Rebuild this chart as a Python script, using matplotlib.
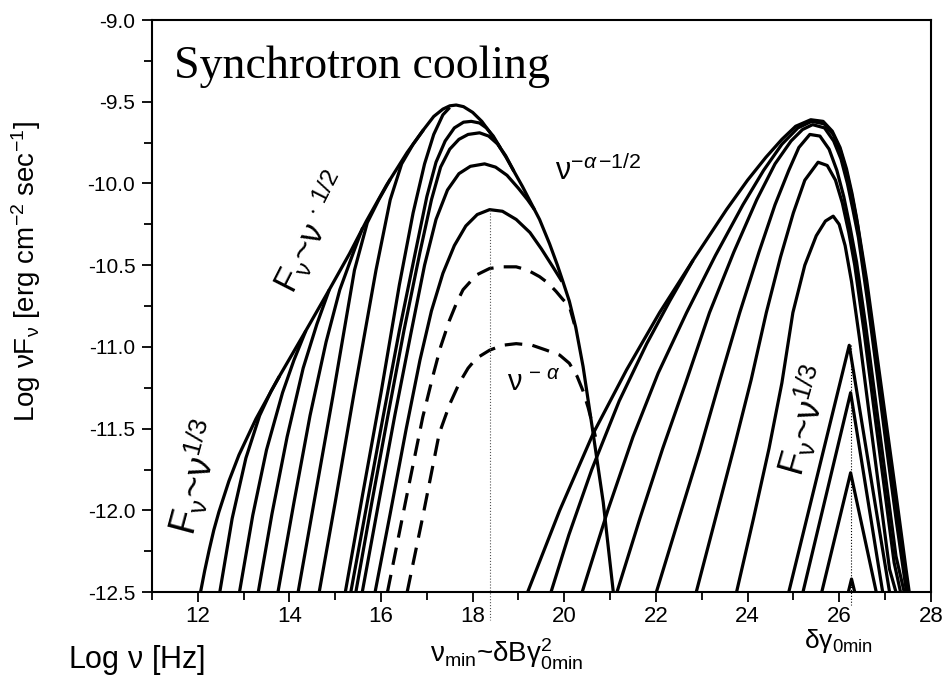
import matplotlib
matplotlib.use('Agg')
import matplotlib.pyplot as plt
from matplotlib.ticker import MultipleLocator, FormatStrFormatter

plt.rcParams['mathtext.fontset'] = 'custom'
plt.rcParams['mathtext.rm'] = 'Liberation Sans'
plt.rcParams['mathtext.it'] = 'Liberation Sans:italic'
plt.rcParams['mathtext.sf'] = 'Liberation Sans'

SANS = ['Liberation Sans', 'DejaVu Sans']

# ---- low-frequency hump (log nu, log nuF_nu) ----
# outer envelope
env_x = [12.06, 12.15, 12.25, 12.35, 12.46, 12.68, 12.90, 13.27, 13.78, 14.36, 14.87, 15.31,
         15.68, 16.12, 16.57, 16.93, 17.15, 17.35, 17.50, 17.64, 17.80, 18.00, 18.20, 18.37,
         18.55, 18.73, 19.09, 19.46, 19.68, 19.85, 19.97, 20.11, 20.25, 20.41, 20.63, 20.85,
         21.07]
env_y = [-12.50, -12.37, -12.24, -12.12, -12.01, -11.82, -11.66, -11.44, -11.18, -10.90, -10.65, -10.43,
         -10.23, -10.01, -9.81, -9.67, -9.59, -9.545, -9.525, -9.52, -9.53, -9.565, -9.62, -9.685,
         -9.76, -9.84, -10.02, -10.22, -10.37, -10.50, -10.60, -10.72, -10.88, -11.12, -11.53, -11.95,
         -12.50]

# branches that climb onto the envelope
lo_x = [
    [12.48, 12.75, 13.05, 13.35, 13.60, 13.78],
    [12.91, 13.20, 13.50, 13.85, 14.10, 14.36],
    [13.32, 13.62, 13.95, 14.30, 14.60, 14.87],
    [13.75, 14.10, 14.45, 14.80, 15.10, 15.40, 15.60],
    [14.19, 14.55, 14.95, 15.42, 15.70, 15.95, 16.20],
    [14.65, 15.00, 15.40, 15.89, 16.20, 16.45, 16.70, 16.93],
    [15.22, 15.60, 16.00, 16.40, 16.70, 16.95, 17.15, 17.35, 17.50],
]
lo_y = [
    [-12.50, -12.05, -11.68, -11.42, -11.27, -11.18],
    [-12.50, -12.03, -11.63, -11.28, -11.08, -10.90],
    [-12.50, -12.02, -11.55, -11.13, -10.86, -10.65],
    [-12.50, -11.95, -11.42, -10.97, -10.65, -10.42, -10.27],
    [-12.50, -11.93, -11.30, -10.53, -10.24, -10.10, -9.975],
    [-12.50, -11.95, -11.30, -10.53, -10.10, -9.88, -9.76, -9.67],
    [-12.50, -11.90, -11.28, -10.62, -10.18, -9.88, -9.70, -9.58, -9.535],
]

# curves with their own maximum, rejoining the falling side
pk_x = [
    [15.34, 15.70, 16.05, 16.40, 16.75, 17.00, 17.20, 17.40, 17.60, 17.80, 17.97, 18.15, 18.30,
     18.45, 18.60],
    [15.45, 15.80, 16.15, 16.50, 16.85, 17.10, 17.30, 17.50, 17.70, 17.90, 18.15, 18.35, 18.55,
     18.72, 18.90],
    [15.59, 15.95, 16.30, 16.65, 16.95, 17.20, 17.45, 17.70, 17.95, 18.26, 18.50, 18.75, 19.00,
     19.20, 19.35],
    [15.87, 16.20, 16.55, 16.85, 17.10, 17.35, 17.60, 17.85, 18.10, 18.37, 18.65, 18.95, 19.25,
     19.50, 19.75, 19.95],
]
pk_y = [
    [-12.50, -11.95, -11.42, -10.90, -10.42, -10.08, -9.87, -9.74, -9.66, -9.625, -9.62, -9.63, -9.66,
     -9.71, -9.78],
    [-12.50, -11.95, -11.42, -10.90, -10.42, -10.10, -9.90, -9.79, -9.73, -9.70, -9.69, -9.71, -9.76,
     -9.83, -9.925],
    [-12.50, -11.95, -11.42, -10.92, -10.50, -10.22, -10.04, -9.94, -9.895, -9.88, -9.90, -9.95, -10.03,
     -10.10, -10.16],
    [-12.50, -12.02, -11.50, -11.08, -10.78, -10.55, -10.38, -10.26, -10.19, -10.16, -10.17, -10.22, -10.30,
     -10.40, -10.51, -10.60],
]

# dashed curves
dash_x = [
    [16.14, 16.54, 16.91, 17.13, 17.30, 17.49, 17.65, 17.79, 18.08, 18.37, 18.65, 18.95, 19.20,
     19.46, 19.65, 19.82, 19.97, 20.11, 20.22],
    [16.57, 16.91, 17.27, 17.50, 17.71, 17.90, 18.08, 18.37, 18.65, 18.95, 19.30, 19.61, 19.90,
     20.11, 20.28, 20.41, 20.52, 20.62, 20.68],
]
dash_y = [
    [-12.50, -11.94, -11.43, -11.18, -11.00, -10.84, -10.73, -10.65, -10.56, -10.52, -10.51, -10.51, -10.53,
     -10.57, -10.61, -10.66, -10.71, -10.75, -10.86],
    [-12.50, -12.04, -11.53, -11.35, -11.22, -11.13, -11.07, -11.02, -10.99, -10.98, -10.99, -11.02, -11.05,
     -11.10, -11.18, -11.27, -11.37, -11.48, -11.55],
]

# ---- high-frequency hump ----
hi_x = [
    [19.20, 19.90, 20.63, 21.36, 22.08, 22.81, 23.54, 24.00, 24.40, 24.75, 25.05, 25.38, 25.65,
     25.85, 26.02, 26.16, 26.28, 26.38, 26.60, 26.82, 27.04, 27.26, 27.46, 27.53],
    [19.71, 20.10, 20.60, 21.20, 21.80, 22.30, 22.81],
    [20.39, 20.95, 21.50, 22.05, 22.67, 23.30, 23.90, 24.35, 24.75, 25.10, 25.40, 25.67, 25.87,
     26.03, 26.17, 26.29, 26.40, 26.60, 26.81, 27.03, 27.25, 27.50],
    [21.15, 21.65, 22.15, 22.65, 23.17, 23.70, 24.20, 24.60, 24.95, 25.20, 25.42, 25.68, 25.88,
     26.04, 26.18, 26.30, 26.42, 26.62, 26.83, 27.04, 27.25, 27.47],
    [22.01, 22.50, 22.95, 23.40, 23.83, 24.25, 24.60, 24.90, 25.12, 25.36, 25.58, 25.78, 25.95,
     26.10, 26.24, 26.38, 26.58, 26.80, 27.02, 27.24, 27.42],
    [22.88, 23.30, 23.72, 24.08, 24.41, 24.72, 25.00, 25.25, 25.54, 25.74, 25.92, 26.07, 26.21,
     26.34, 26.54, 26.76, 26.98, 27.20, 27.34],
    [23.76, 24.13, 24.47, 24.75, 24.99, 25.25, 25.50, 25.70, 25.87, 26.00, 26.13, 26.27, 26.45,
     26.66, 26.88, 27.10, 27.24],
    [24.90, 26.22, 27.10],
    [25.21, 26.25, 26.95],
    [25.62, 26.25, 26.81],
    [26.20, 26.27, 26.34],
]
hi_y = [
    [-12.50, -12.00, -11.53, -11.14, -10.79, -10.47, -10.16, -9.98, -9.84, -9.73, -9.65, -9.61, -9.62,
     -9.68, -9.78, -9.91, -10.06, -10.21, -10.59, -11.04, -11.49, -11.94, -12.36, -12.50],
    [-12.50, -12.15, -11.75, -11.33, -10.98, -10.72, -10.47],
    [-12.50, -12.00, -11.55, -11.16, -10.79, -10.44, -10.13, -9.92, -9.76, -9.66, -9.62, -9.635, -9.70,
     -9.80, -9.94, -10.09, -10.25, -10.63, -11.08, -11.55, -12.02, -12.50],
    [-12.50, -12.05, -11.62, -11.22, -10.79, -10.42, -10.10, -9.88, -9.74, -9.67, -9.64, -9.66, -9.74,
     -9.85, -10.00, -10.16, -10.33, -10.72, -11.17, -11.63, -12.07, -12.50],
    [-12.50, -12.05, -11.64, -11.20, -10.79, -10.42, -10.13, -9.92, -9.78, -9.70, -9.71, -9.79, -9.92,
     -10.08, -10.27, -10.48, -10.87, -11.34, -11.81, -12.28, -12.50],
    [-12.50, -12.05, -11.60, -11.20, -10.79, -10.45, -10.18, -9.98, -9.87, -9.89, -9.98, -10.12, -10.30,
     -10.50, -10.90, -11.38, -11.85, -12.32, -12.50],
    [-12.50, -12.05, -11.62, -11.22, -10.79, -10.50, -10.32, -10.23, -10.20, -10.25, -10.38, -10.60, -10.96,
     -11.42, -11.89, -12.36, -12.50],
    [-12.50, -10.99, -12.50],
    [-12.50, -11.28, -12.50],
    [-12.50, -11.77, -12.50],
    [-12.50, -12.42, -12.50],
]

# characteristic frequencies marked by dotted lines
nu_min_x, nu_min_top = 18.37, -10.16
gam_min_x, gam_min_top = 26.25, -10.99

LW = 2.3
SOLID = dict(color='black', lw=LW, solid_joinstyle='round', solid_capstyle='butt')

fig = plt.figure(figsize=(9.44, 6.79), dpi=100)
ax = fig.add_axes([0.161, 0.128, 0.825, 0.8425])

ax.plot(env_x, env_y, **SOLID)
for xs, ys in zip(lo_x, lo_y):
    ax.plot(xs, ys, **SOLID)
for xs, ys in zip(pk_x, pk_y):
    ax.plot(xs, ys, **SOLID)
for xs, ys in zip(dash_x, dash_y):
    ax.plot(xs, ys, color='black', lw=LW, ls=(0, (5.5, 3.2)))
for xs, ys in zip(hi_x, hi_y):
    ax.plot(xs, ys, **SOLID)

ax.plot([nu_min_x, nu_min_x], [nu_min_top, -12.67], color='#555555', lw=0.8, ls=':', clip_on=False)
ax.plot([gam_min_x, gam_min_x], [gam_min_top, -12.58], color='black', lw=0.8, ls=':', clip_on=False)

ax.set_xlim(11, 28)
ax.set_ylim(-12.5, -9.0)
ax.xaxis.set_major_locator(MultipleLocator(2))
ax.xaxis.set_minor_locator(MultipleLocator(1))
ax.yaxis.set_major_locator(MultipleLocator(0.5))
ax.yaxis.set_minor_locator(MultipleLocator(0.25))
ax.tick_params(which='both', direction='out', width=1.3, top=False, right=False)
ax.tick_params(which='major', length=7)
ax.tick_params(which='minor', length=6)
ax.tick_params(axis='x', pad=3)
ax.tick_params(axis='y', pad=5)
ax.yaxis.set_major_formatter(FormatStrFormatter('%.1f'))
for sp in ax.spines.values():
    sp.set_linewidth(1.5)

for lab in ax.get_xticklabels():
    lab.set_family(SANS)
    lab.set_fontsize(16)
for lab in ax.get_yticklabels():
    lab.set_family(SANS)
    lab.set_fontsize(15)

ax.set_ylabel(r'Log $\mathrm{\nu}$F$_{\mathrm{\nu}}$ [erg cm$^{-2}$ sec$^{-1}$]',
              fontsize=20, family=SANS)
ax.yaxis.set_label_coords(-0.14, 0.56)

# annotations
ax.text(11.48, -9.355, 'Synchrotron cooling', family=['Liberation Serif', 'DejaVu Serif'],
        fontsize=33, va='baseline', ha='left')
ax.text(14.50, -10.30, r'F$_{\mathrm{\nu}}$~$\mathrm{\nu}^{\,\cdot\,1/2}$', rotation=63,
        fontsize=25, family=SANS, ha='center', va='center', rotation_mode='anchor')
ax.text(11.95, -11.80, r'F$_{\mathrm{\nu}}$~$\mathrm{\nu}^{1/3}$', rotation=75,
        fontsize=27, family=SANS, ha='center', va='center', rotation_mode='anchor')
ax.text(25.25, -11.45, r'F$_{\mathrm{\nu}}$~$\mathrm{\nu}^{1/3}$', rotation=74,
        fontsize=26, family=SANS, ha='center', va='center', rotation_mode='anchor')
ax.text(19.79, -9.98, r'$\mathrm{\nu}^{-\alpha\,\mathrm{-1/2}}$', fontsize=22, family=SANS,
        ha='left', va='baseline')
ax.text(18.76, -11.27, r'$\mathrm{\nu}^{\,-\,\alpha}$', fontsize=21, family=SANS,
        ha='left', va='baseline')

fig.text(68 / 944, 1 - 668 / 679, r'Log $\mathrm{\nu}$ [Hz]', fontsize=22, family=SANS,
         ha='left', va='baseline')
fig.text(507 / 944, 1 - 662 / 679, r'$\mathrm{\nu_{min}}$~$\mathrm{\delta}$B$\mathrm{\gamma^2_{0min}}$',
         fontsize=20, family=SANS, ha='center', va='baseline')
fig.text(838 / 944, 1 - 648 / 679, r'$\mathrm{\delta\gamma_{0min}}$', fontsize=19,
         family=SANS, ha='center', va='baseline')

fig.savefig('out.png', dpi=100)
